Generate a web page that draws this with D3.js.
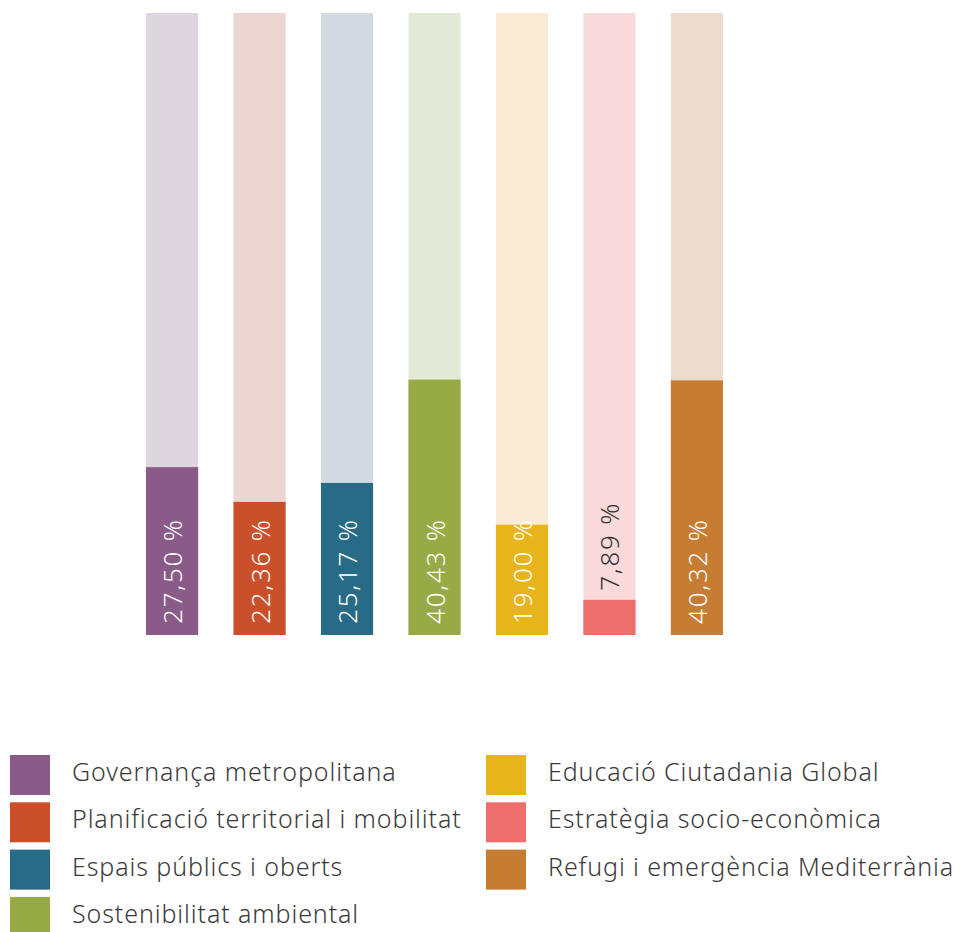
<!DOCTYPE html>
<html><head><meta charset="utf-8">
<script src="https://cdn.jsdelivr.net/npm/d3@7"></script>
<style>body{margin:0;background:#fff}svg{display:block}text{font-family:"Noto Sans",sans-serif}</style>
</head><body><svg id="c" width="959" height="932"></svg>
<script>
const categories = ["Governança metropolitana","Planificació territorial i mobilitat","Espais públics i oberts","Sostenibilitat ambiental","Educació Ciutadania Global","Estratègia socio-econòmica","Refugi i emergència Mediterrània"];
const values = [27.50, 22.36, 25.17, 40.43, 19.00, 7.89, 40.32];
const labels = ["27,50 %","22,36 %","25,17 %","40,43 %","19,00 %","7,89 %","40,32 %"];
const colors = ["#8a5a88","#c9502b","#286b86","#98aa45","#e8b41b","#ec6f6c","#c77c34"];
const bgColors = ["#ddd6de","#ebd6d1","#d3dbe1","#e3e9d7","#f9ead4","#f9d9d9","#eddccd"];

const svg = d3.select("#c");
const x = d3.scaleBand().domain(categories).range([146, 723]).paddingInner(0.404).paddingOuter(0);
const y = d3.scaleLinear().domain([2.7, 94.6]).range([635, 13]);

const g = svg.append("g");
const bars = g.selectAll("g.bar").data(categories).join("g").attr("class","bar");
bars.append("rect").attr("x", d=>x(d)).attr("width", x.bandwidth())
  .attr("y", y(94.6)).attr("height", y(2.7)-y(94.6)).attr("fill",(d,i)=>bgColors[i]);
bars.append("rect").attr("x", d=>x(d)).attr("width", x.bandwidth())
  .attr("y",(d,i)=>y(values[i])).attr("height",(d,i)=>y(2.7)-y(values[i])).attr("fill",(d,i)=>colors[i]);
bars.append("text")
  .attr("transform",(d,i)=>{
    const cx = x(d)+x.bandwidth()/2;
    const yy = values[i] < 10 ? y(values[i]) - 9 : y(2.7) - 11;
    return `translate(${cx+10},${yy}) rotate(-90)`;
  })
  .attr("font-size",26).attr("font-weight",300).attr("letter-spacing","1.8px")
  .attr("fill",(d,i)=>values[i]<10?"#333":"#fff")
  .text((d,i)=>labels[i]);

// legend
const leg = svg.append("g");
const items = leg.selectAll("g").data(categories).join("g")
  .attr("transform",(d,i)=>{
    const col = i<4?0:1, row = i<4?i:i-4;
    return `translate(${col?486:10},${755+row*47.3})`;
  });
items.append("rect").attr("width",40).attr("height",40).attr("fill",(d,i)=>colors[i]);
items.append("text").attr("x",62).attr("y",26).attr("font-size",25).attr("font-weight",300)
  .attr("letter-spacing","0.9px").attr("fill","#3a3a3a").text(d=>d);
</script></body></html>
